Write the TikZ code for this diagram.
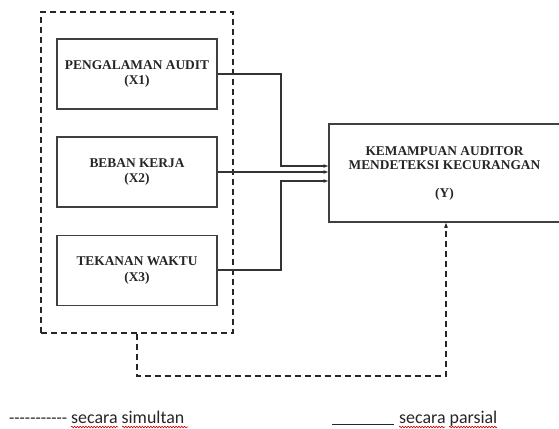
\documentclass[tikz,border=0pt]{standalone}
\usepackage{fontspec}
\setmainfont{Liberation Serif}
\newfontfamily\legfont{Carlito}
\usetikzlibrary{arrows.meta,decorations.pathmorphing}
\begin{document}
\begin{tikzpicture}[x=1pt,y=-1pt,
  box/.style={draw=black!75,line width=1.1pt,minimum width=160pt,minimum height=70pt,inner sep=0pt,
    align=center,font=\bfseries\fontsize{13.4}{15.5}\selectfont,text=black!85},
  ybox/.style={draw=black!75,line width=1.1pt,minimum width=231pt,minimum height=98pt,inner sep=0pt,
    align=center,font=\bfseries\fontsize{13.4}{14}\selectfont,text=black!85},
  conn/.style={draw=black!80,line width=1.1pt},
  arr/.style={conn,-{Latex[length=5.5pt,width=4pt]}},
  dsh/.style={draw=black!85,line width=1.1pt,dash pattern=on 6pt off 4pt},
  leg/.style={font=\legfont\fontsize{17.9}{18}\selectfont,text=black!85,inner sep=0pt,anchor=base west},
  wavy/.style={draw=red!85!black,line width=0.6pt,decorate,decoration={snake,amplitude=0.8pt,segment length=2.8pt}}]
\useasboundingbox (0,0) rectangle (559,428);
\fill[white] (0,0) rectangle (559,428);
% group
\node[dsh,minimum width=192pt,minimum height=321pt,inner sep=0pt] (grp) at (137,172.5) {};
% boxes
\node[box] (x1) at (137,74) {PENGALAMAN AUDIT\\(X1)};
\node[box] (x2) at (137,172) {BEBAN KERJA\\(X2)};
\node[box] (x3) at (137,270.5) {TEKANAN WAKTU\\(X3)};
\node[ybox] (y) at (444.5,173) {KEMAMPUAN AUDITOR\\MENDETEKSI KECURANGAN\\[14pt](Y)};
% arrow ends
\coordinate (a1) at (329,166);
\coordinate (a2) at (329,172);
\coordinate (a3) at (329,181);
\coordinate (yin) at (446,222);
\coordinate (c1) at (281,74);
\coordinate (c3) at (281,270);
\draw[arr] (x1.east) -- (c1) |- (a1);
\draw[arr] (x2.east) -- (a2);
\draw[arr] (x3.east |- c3) -- (c3) |- (a3);
% simultaneous
\coordinate (d1) at (137,376);
\draw[dsh,-{Latex[length=5.5pt,width=4pt]}] (grp.south) -- (d1) -| (yin);
% legend
\node[leg,font=\legfont\fontsize{17.2}{18}\selectfont] (l1) at (9,423.5) {-----------};
\node[leg] (l2) at (71,423.5) {secara simultan};
\draw[line width=0.9pt,black!85] (332,424.5) -- (394,424.5);
\node[leg] (l4) at (399,423.5) {secara parsial};
\draw[wavy] (71,427) -- (118,427);
\draw[wavy] (122,427) -- (188,427);
\draw[wavy] (399,427) -- (445,427);
\draw[wavy] (449,427) -- (497,427);
\end{tikzpicture}
\end{document}
